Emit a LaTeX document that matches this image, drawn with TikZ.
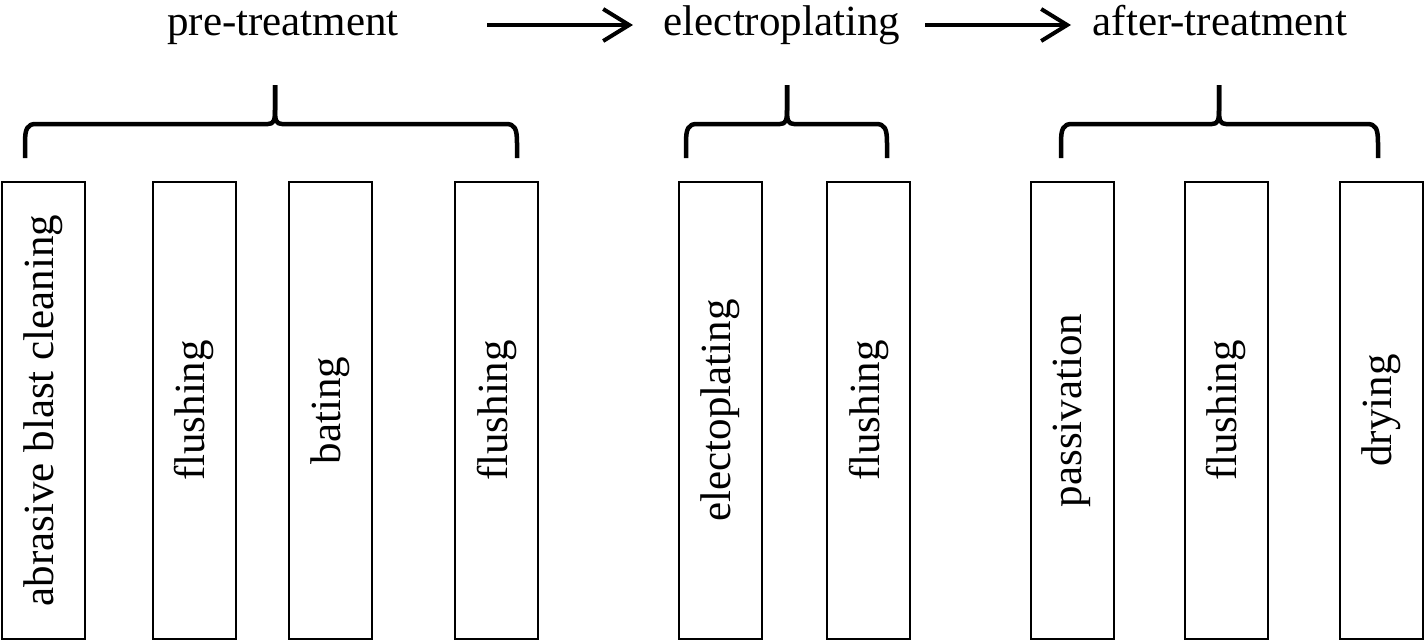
\documentclass[tikz,border=0pt]{standalone}
\usepackage{fontspec}
\setmainfont{Liberation Serif}
\usetikzlibrary{arrows.meta}
\newcommand\mybrace[3]{%
  \draw[brace] (#1,158) -- (#1,143) .. controls (#1,129) and (#1+2,124) .. (#1+11,124)
     -- (#2-7,124) .. controls (#2-1,124) and (#2,120) .. (#2,110) -- (#2,85);
  \draw[brace] (#3,158) -- (#3,143) .. controls (#3,129) and (#3-2,124) .. (#3-11,124)
     -- (#2+7,124) .. controls (#2+1,124) and (#2,120) .. (#2,110) -- (#2,85);
}
\begin{document}
\begin{tikzpicture}[x=1pt,y=-1pt,
  stepbox/.style={draw, line width=2pt, rotate=90, minimum width=457pt, minimum height=83pt,
    inner sep=0pt, font=\fontsize{43}{50}\selectfont},
  title/.style={font=\fontsize{43}{50}\selectfont, anchor=base, inner sep=0pt},
  brace/.style={line width=4.5pt, line join=round},
  flow/.style={line width=4pt, -{Straight Barb[length=26pt, width=32pt, line width=4pt]}}]
\useasboundingbox (0,0) rectangle (1425,641);
% titles
\node[title] (pre) at (283,35) {pre-treatment};
\node[title] (ele) at (782,35) {electroplating};
\node[title] (aft) at (1220,35) {after-treatment};
\coordinate (a1s) at (487,25);
\coordinate (a1e) at (633,25);
\coordinate (a2s) at (925,25);
\coordinate (a2e) at (1071,25);
\draw[flow] (a1s) -- (a1e);
\draw[flow] (a2s) -- (a2e);
% braces
\mybrace{25}{275}{517}
\mybrace{686}{787}{887}
\mybrace{1061}{1219}{1378}
% boxes
\node[stepbox] (b1) at (43,410.5) {abrasive blast cleaning};
\node[stepbox] (b2) at (194,410.5) {flushing};
\node[stepbox] (b3) at (330.5,410.5) {bating};
\node[stepbox] (b4) at (496.5,410.5) {flushing};
\node[stepbox] (b5) at (720.5,410.5) {electoplating};
\node[stepbox] (b6) at (868.5,410.5) {flushing};
\node[stepbox] (b7) at (1072,410.5) {passivation};
\node[stepbox] (b8) at (1226,410.5) {flushing};
\node[stepbox] (b9) at (1381.5,410.5) {drying};
\end{tikzpicture}
\end{document}
